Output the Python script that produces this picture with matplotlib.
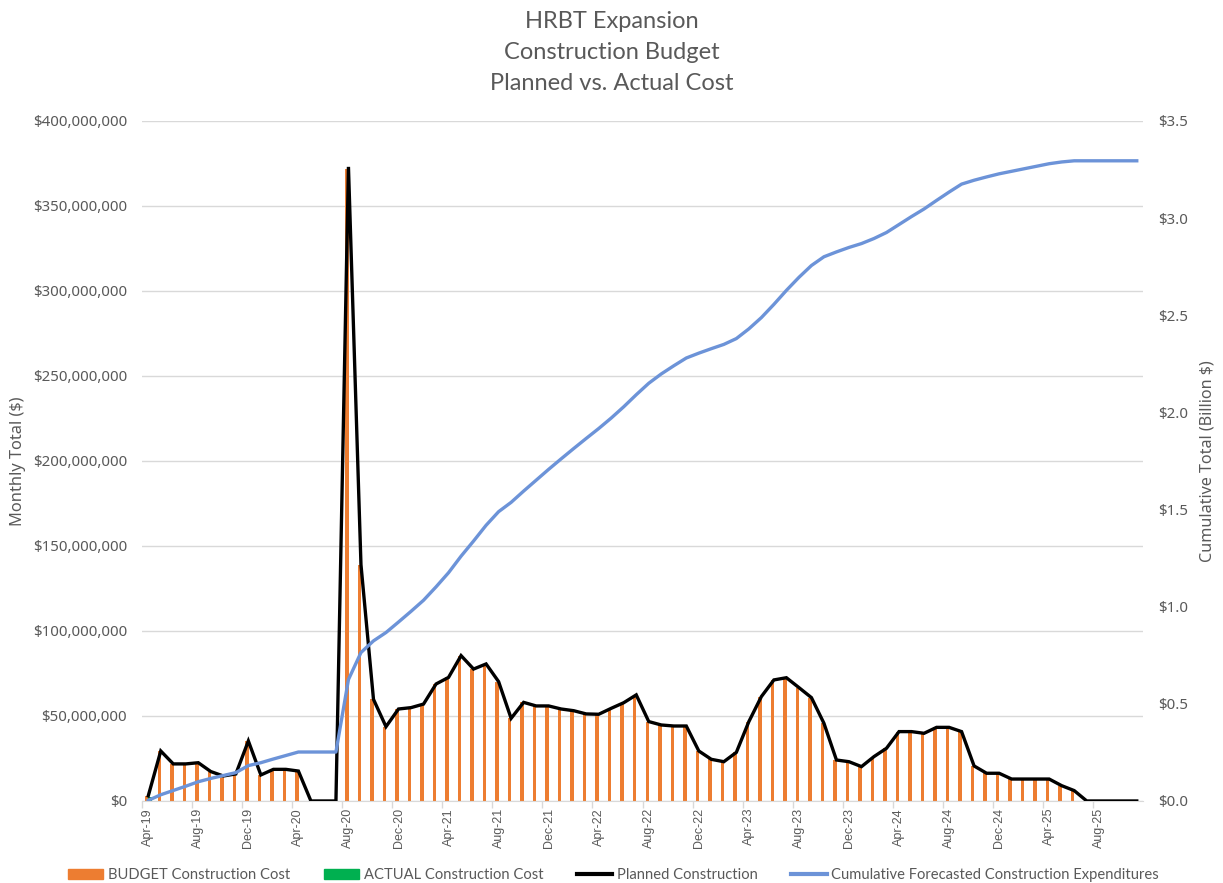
"""HRBT Expansion construction budget: monthly planned vs. actual cost,
with the cumulative forecast on a secondary axis.

Output:
    out.png
"""

import matplotlib
matplotlib.use("Agg")
import matplotlib.pyplot as plt
from matplotlib.lines import Line2D
from matplotlib.patches import Patch
from matplotlib.ticker import FuncFormatter, MultipleLocator
import numpy as np

# ---- data ----
START_YEAR, START_MONTH = 2019, 4          # Apr-19 ... Nov-25, 80 months
N_MONTHS = 80

# monthly planned construction, $ millions
planned_m = [
    3.0, 29.4, 21.8, 21.8, 22.5, 17.3, 14.7, 15.9, 35.3, 15.3, 18.6, 18.6,
    17.6, 0.0, 0.0, 0.0, 373.0, 139.0, 59.8, 43.7, 54.1, 54.9, 57.0, 68.8,
    72.7, 85.5, 77.6, 80.6, 70.2, 48.6, 58.0, 55.9, 55.9, 54.1, 53.1, 51.2,
    51.0, 54.5, 57.8, 62.4, 46.7, 44.7, 44.1, 44.1, 29.4, 24.5, 23.1, 28.6,
    46.7, 61.4, 71.2, 72.5, 66.7, 60.8, 45.7, 24.1, 23.1, 20.2, 26.1, 31.0,
    40.8, 40.8, 39.8, 43.3, 43.3, 40.8, 20.6, 16.3, 16.3, 12.9, 12.9, 12.9,
    12.9, 9.0, 6.1, 0.0, 0.0, 0.0, 0.0, 0.0,
]

# budget bars sit right under the planned line in the picture
budget_m = [
    3.0, 29.4, 21.8, 21.8, 22.5, 17.3, 14.7, 15.9, 35.3, 15.3, 18.6, 18.6,
    17.6, 0.0, 0.0, 0.0, 372.0, 139.0, 59.8, 43.7, 54.1, 54.9, 57.0, 68.8,
    72.7, 85.5, 77.6, 80.6, 70.2, 48.6, 58.0, 55.9, 55.9, 54.1, 53.1, 51.2,
    51.0, 54.5, 57.8, 62.4, 46.7, 44.7, 44.1, 44.1, 29.4, 24.5, 23.1, 28.6,
    46.7, 61.4, 71.2, 72.5, 66.7, 60.8, 45.7, 24.1, 23.1, 20.2, 26.1, 31.0,
    40.8, 40.8, 39.8, 43.3, 43.3, 40.8, 20.6, 16.3, 16.3, 12.9, 12.9, 12.9,
    12.9, 9.0, 6.1, 0.0, 0.0, 0.0, 0.0, 0.0,
]

# only the first month has an actual spend so far, $ millions
actual_m = [2.5]

# cumulative forecasted expenditures, $ billions
cumulative_b = [
    0.003, 0.032, 0.054, 0.076, 0.099, 0.116, 0.131, 0.146, 0.182, 0.197,
    0.216, 0.234, 0.252, 0.252, 0.252, 0.252, 0.625, 0.764, 0.824, 0.867,
    0.921, 0.976, 1.033, 1.102, 1.175, 1.260, 1.338, 1.419, 1.489, 1.537,
    1.595, 1.651, 1.707, 1.761, 1.814, 1.866, 1.917, 1.971, 2.029, 2.091,
    2.150, 2.198, 2.240, 2.280, 2.305, 2.328, 2.350, 2.380, 2.430, 2.488,
    2.556, 2.628, 2.695, 2.756, 2.801, 2.826, 2.849, 2.869, 2.895, 2.926,
    2.967, 3.008, 3.047, 3.091, 3.134, 3.175, 3.195, 3.212, 3.228, 3.241,
    3.254, 3.267, 3.280, 3.289, 3.295, 3.295, 3.295, 3.295, 3.295, 3.295,
]

MONTHS = ["Jan", "Feb", "Mar", "Apr", "May", "Jun",
          "Jul", "Aug", "Sep", "Oct", "Nov", "Dec"]

ORANGE = "#ED7D31"
GREEN = "#00B050"
BLUE = "#6C93D8"
INK = "#595959"
GRID = "#D9D9D9"


def month_label(i):
    m = START_MONTH - 1 + i
    return f"{MONTHS[m % 12]}-{(START_YEAR + m // 12) % 100:02d}"


def main():
    x = np.arange(N_MONTHS)
    labels = [month_label(i) for i in x]

    fig = plt.figure(figsize=(12.23, 8.83), dpi=100)
    ax = fig.add_axes([0.1161, 0.0929, 0.8185, 0.7701])
    ax2 = ax.twinx()

    width = 0.28
    ax.bar(x - 0.12, np.array(budget_m) * 1e6, width=width, color=ORANGE, zorder=2)
    ax.bar(x[:len(actual_m)] + 0.12, np.array(actual_m) * 1e6, width=width,
           color=GREEN, zorder=2)
    ax.plot(x, np.array(planned_m) * 1e6, color="black", lw=2.4, zorder=4,
            solid_joinstyle="miter")
    ax2.plot(x, cumulative_b, color=BLUE, lw=2.4, zorder=3)

    # left axis
    ax.set_xlim(-0.5, N_MONTHS - 0.5)
    ax.set_ylim(0, 400e6)
    ax.yaxis.set_major_locator(MultipleLocator(50e6))
    ax.yaxis.set_major_formatter(FuncFormatter(lambda v, _: f"${v:,.0f}"))
    ax.grid(axis="y", color=GRID, lw=1.0, zorder=0)
    ax.set_axisbelow(True)
    ax.tick_params(axis="y", length=0, pad=10.8, labelcolor=INK, labelsize=10.8)
    for lab in ax.get_yticklabels():
        lab.set_fontfamily("Noto Sans")
    ax.set_ylabel("Monthly Total ($)", color=INK, fontsize=11.8,
                  family="Noto Sans", labelpad=5)

    # x axis: labels on every 4th month, tick marks at the category edge
    ax.set_xticks(x[::4])
    ax.set_xticklabels(labels[::4], rotation=90, fontsize=9, color=INK,
                       family="Liberation Sans")
    ax.tick_params(axis="x", length=0, pad=5)
    ax.set_xticks(x[::4] - 0.5, minor=True)
    ax.tick_params(axis="x", which="minor", length=5, color=GRID, width=1)

    # right axis
    ax2.set_ylim(0, 3.5)
    ax2.yaxis.set_major_locator(MultipleLocator(0.5))
    ax2.yaxis.set_major_formatter(FuncFormatter(lambda v, _: f"${v:.1f}"))
    ax2.tick_params(axis="y", length=0, pad=10.8, labelcolor=INK, labelsize=10.8)
    for lab in ax2.get_yticklabels():
        lab.set_fontfamily("Noto Sans")
    ax2.set_ylabel("Cumulative Total (Billion $)", color=INK, fontsize=11.6,
                   family="Noto Sans", labelpad=8)

    for a in (ax, ax2):
        for side in ("top", "left", "right"):
            a.spines[side].set_visible(False)
        a.spines["bottom"].set_color(GRID)
    ax2.spines["bottom"].set_visible(False)

    fig.text(0.5, 0.9875, "HRBT Expansion\nConstruction Budget\nPlanned vs. Actual Cost",
             ha="center", va="top", color=INK, fontsize=17, family="Lato",
             linespacing=1.58)

    handles = [
        Patch(color=ORANGE),
        Patch(color=GREEN),
        Line2D([], [], color="black", lw=3),
        Line2D([], [], color=BLUE, lw=3),
    ]
    names = ["BUDGET Construction Cost", "ACTUAL Construction Cost",
             "Planned Construction", "Cumulative Forecasted Construction Expenditures"]
    fig.legend(handles, names, loc="center", bbox_to_anchor=(0.5016, 0.009),
               ncol=4, frameon=False, handlelength=2.4, handleheight=0.75,
               handletextpad=0.3, columnspacing=2.3, borderpad=0.2,
               prop={"family": "Lato", "size": 10.6}, labelcolor=INK)

    fig.savefig("out.png", dpi=100)


if __name__ == "__main__":
    main()
